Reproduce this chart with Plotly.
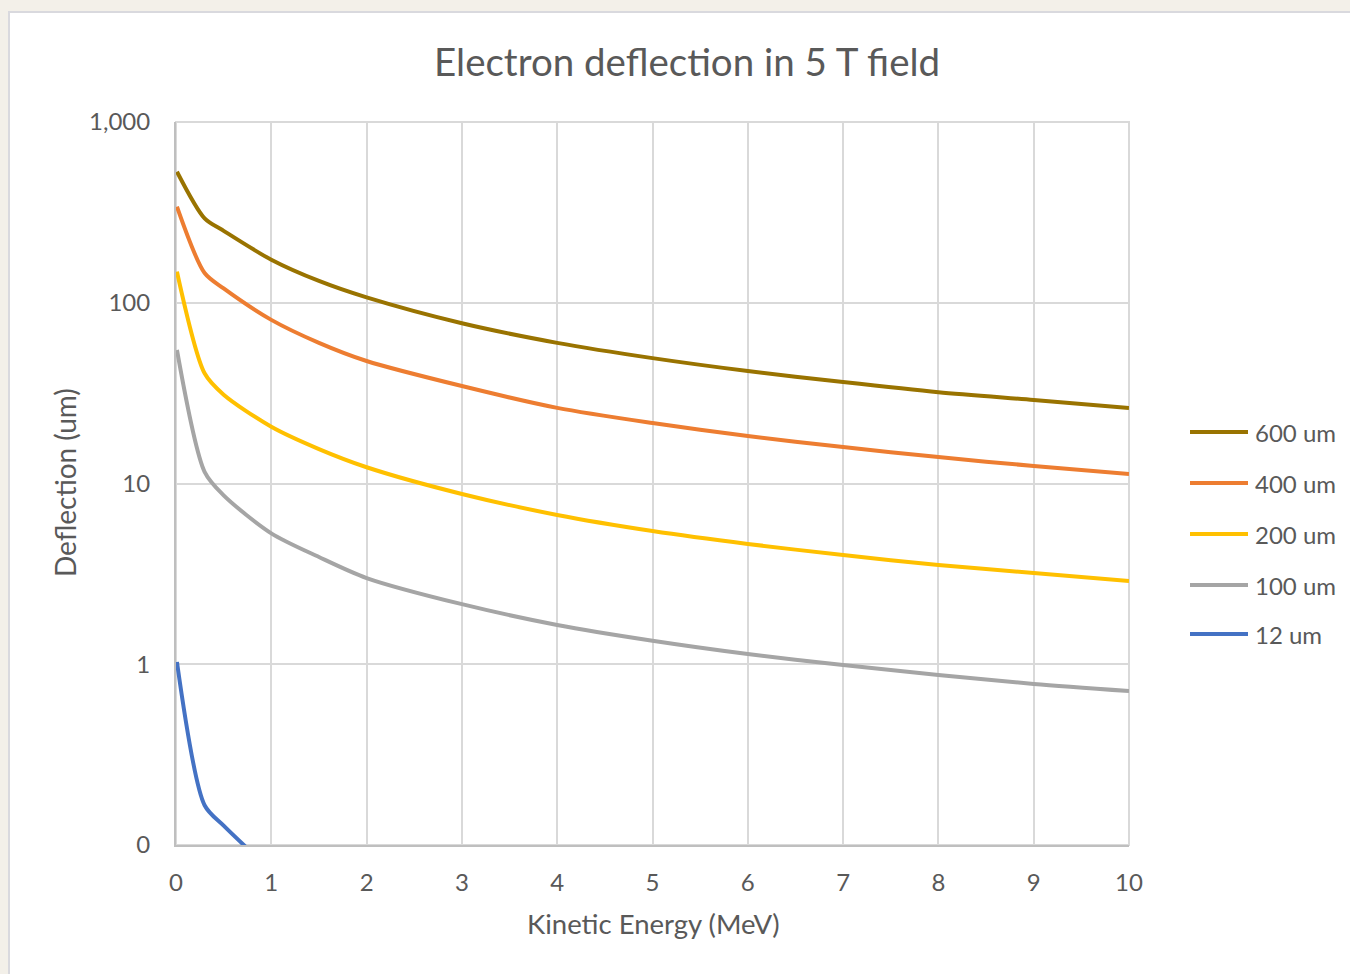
import plotly.graph_objects as go

# Kinetic energy sample points (MeV)
energy = [0.01, 0.3, 0.5, 1, 1.5, 2, 3, 4, 5, 6, 7, 8, 9, 10]

# Deflection (um) for each silicon thickness
defl_600 = [531, 293, 250, 173, 132, 107, 77, 60, 49.4, 41.9, 36.4, 32.0, 29.0, 26.2]
defl_400 = [340, 146, 120, 80.4, 60, 47.6, 34.6, 26.2, 21.6, 18.3, 15.9, 14.0, 12.5, 11.3]
defl_200 = [148.6, 40.7, 31, 20.6, 15.5, 12.3, 8.75, 6.7, 5.46, 4.63, 4.02, 3.54, 3.2, 2.89]
defl_100 = [54.8, 11.6, 8.6, 5.3, 3.92, 3.0, 2.15, 1.65, 1.35, 1.14, 0.99, 0.873, 0.778, 0.711]
energy_12 = [0.01, 0.3, 0.5, 1]
defl_12 = [1.03, 0.166, 0.128, 0.072]

series_names = ["600 um", "400 um", "200 um", "100 um", "12 um"]
series_colors = ["#997300", "#ED7D31", "#FFC000", "#A5A5A5", "#4472C4"]
series_x = [energy, energy, energy, energy, energy_12]
series_y = [defl_600, defl_400, defl_200, defl_100, defl_12]

y_tickvals = [0.1, 1, 10, 100, 1000]
y_ticktext = ["0", "1", "10", "100", "1,000"]
x_tickvals = list(range(0, 11))

W, H = 1350, 974
L, R, T, B = 176, 1129, 122, 845  # plot area edges in pixels
FONT = "Lato"
TXT = "#595959"


def px_x(px):
    return (px - L) / (R - L)


def px_y(py):
    return (B - py) / (B - T)


fig = go.Figure()
for name, color, xs, ys in zip(series_names, series_colors, series_x, series_y):
    fig.add_trace(go.Scatter(
        x=xs, y=ys, name=name, mode="lines",
        line=dict(color=color, width=4, shape="spline", smoothing=0.8),
        showlegend=False,
    ))

shapes = [
    # white chart panel on the textured page
    dict(type="rect", xref="paper", yref="paper",
         x0=px_x(9), x1=px_x(1352), y0=px_y(976), y1=px_y(12),
         fillcolor="white", line=dict(color="#D9D9DE", width=2), layer="below"),
]
annotations = [
    dict(text="Electron deflection in 5 T field", xref="paper", yref="paper",
         x=px_x(687), y=px_y(61), showarrow=False, xanchor="center", yanchor="middle",
         font=dict(family=FONT, size=38.5, color=TXT)),
    dict(text="Kinetic Energy (MeV)", xref="paper", yref="paper",
         x=px_x(653), y=px_y(923), showarrow=False, xanchor="center", yanchor="middle",
         font=dict(family=FONT, size=27.5, color=TXT)),
    dict(text="Deflection (um)", xref="paper", yref="paper",
         x=px_x(65), y=px_y(483), showarrow=False, xanchor="center", yanchor="middle",
         textangle=-90, font=dict(family=FONT, size=28, color=TXT)),
]

# legend drawn as line samples with labels
legend_y = [432, 483, 534, 585, 634]
for name, color, ly in zip(series_names, series_colors, legend_y):
    shapes.append(dict(type="line", xref="paper", yref="paper",
                       x0=px_x(1190), x1=px_x(1248), y0=px_y(ly), y1=px_y(ly),
                       line=dict(color=color, width=4)))
    annotations.append(dict(text=name, xref="paper", yref="paper",
                            x=px_x(1253), y=px_y(ly), showarrow=False,
                            xanchor="left", yanchor="middle",
                            font=dict(family=FONT, size=24, color=TXT)))

fig.update_layout(
    width=W, height=H,
    margin=dict(l=L, r=W - R, t=T, b=H - B),
    paper_bgcolor="#F3F0E9",
    plot_bgcolor="white",
    shapes=shapes,
    annotations=annotations,
    showlegend=False,
)
fig.update_xaxes(
    range=[0, 10], tickvals=x_tickvals, showgrid=True, gridcolor="#D9D9D9", gridwidth=2,
    zeroline=False, showline=True, linecolor="#BFBFBF", linewidth=2,
    ticks="outside", ticklen=15, tickcolor="rgba(0,0,0,0)",
    tickfont=dict(family=FONT, size=24, color=TXT),
)
fig.update_yaxes(
    type="log", range=[-1, 3], tickvals=y_tickvals, ticktext=y_ticktext,
    showgrid=True, gridcolor="#D9D9D9", gridwidth=2,
    zeroline=False, showline=True, linecolor="#BFBFBF", linewidth=2,
    ticks="outside", ticklen=19, tickcolor="rgba(0,0,0,0)",
    tickfont=dict(family=FONT, size=24, color=TXT),
)
# right and top frame as gridline-coloured border
fig.add_shape(type="rect", xref="paper", yref="paper", x0=0, x1=1, y0=0, y1=1,
              line=dict(color="#D9D9D9", width=2), layer="below")

fig.write_html("out.html")
